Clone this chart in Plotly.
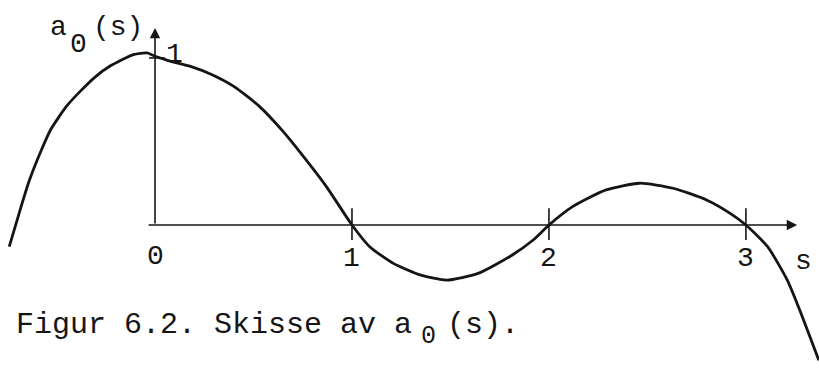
import plotly.graph_objects as go

# Sketched curve a0(s): sample points along the hand-drawn shape
s_vals = [-0.74, -0.69, -0.64, -0.58, -0.53, -0.45, -0.38, -0.30, -0.23, -0.11,
          -0.04, 0.00, 0.08, 0.18, 0.29, 0.40, 0.53, 0.65, 0.74, 0.87,
          1.00, 1.09, 1.21, 1.35, 1.48, 1.64, 1.80, 1.92, 2.00, 2.12,
          2.29, 2.46, 2.63, 2.80, 2.92, 3.00, 3.11, 3.21, 3.27, 3.37]
a0_vals = [-0.13, 0.07, 0.26, 0.44, 0.57, 0.71, 0.80, 0.89, 0.95, 1.02,
           1.03, 1.01, 0.98, 0.95, 0.90, 0.83, 0.71, 0.56, 0.43, 0.23,
           0.00, -0.13, -0.23, -0.30, -0.33, -0.29, -0.19, -0.09, 0.00, 0.11,
           0.21, 0.25, 0.22, 0.15, 0.07, 0.00, -0.13, -0.33, -0.50, -0.81]

x_ticks = [1, 2, 3]
x_tick_labels = ["1", "2", "3"]

INK = "#151515"
FONT = "Liberation Mono, DejaVu Sans Mono, monospace"
FS = 28

fig = go.Figure()
fig.add_trace(go.Scatter(
    x=s_vals, y=a0_vals, mode="lines",
    line=dict(color=INK, width=2.8, shape="spline", smoothing=0.6),
    hoverinfo="skip", showlegend=False,
))

shapes = []
# tick marks on the s axis
for t in x_ticks:
    shapes.append(dict(type="line", xref="x", yref="y", x0=t, x1=t, y0=-0.09, y1=0.10,
                       line=dict(color=INK, width=1.6)))
# small mark at a0 = 1 on the vertical axis
shapes.append(dict(type="line", xref="x", yref="y", x0=-0.03, x1=0.05, y0=1.0, y1=1.0,
                   line=dict(color=INK, width=1.6)))

annotations = []
# axes drawn as arrows
annotations.append(dict(x=3.26, y=0, ax=-0.04, ay=0, xref="x", yref="y", axref="x", ayref="y",
                        text="", showarrow=True, arrowhead=2, arrowsize=1.3, arrowwidth=1.6,
                        arrowcolor=INK))
annotations.append(dict(x=0, y=1.18, ax=0, ay=0, xref="x", yref="y", axref="x", ayref="y",
                        text="", showarrow=True, arrowhead=2, arrowsize=1.3, arrowwidth=1.6,
                        arrowcolor=INK))


def label(x, y, txt, xanchor="center", size=FS, xref="x", xshift=0):
    annotations.append(dict(x=x, y=y, xref=xref, yref="y", text=txt, showarrow=False,
                            xanchor=xanchor, yanchor="middle", xshift=xshift,
                            font=dict(family=FONT, size=size, color=INK)))


label(0, -0.19, "0")
for t, lab in zip(x_ticks, x_tick_labels):
    label(t, -0.20, lab)
label(3.29, -0.22, "s")
label(0.10, 1.02, "1")

# vertical axis title a0(s)
label(-0.49, 1.18, "a")
label(-0.39, 1.08, "0")
label(-0.19, 1.18, "(s)")

# caption below the sketch, written in pieces so the subscript sits low
cap_y = -0.60
label(0.506, cap_y, "Figur 6.2. Skisse av a", xanchor="right", xref="paper", size=30)
label(1.39, cap_y - 0.07, "0", size=FS - 3)
label(1.47, cap_y, "(s).", xanchor="left", size=30)

fig.update_layout(annotations=annotations, shapes=shapes)

fig.update_xaxes(range=[-0.787, 3.371], visible=False, fixedrange=True)
fig.update_yaxes(range=[-0.958, 1.347], visible=False, fixedrange=True)
fig.update_layout(
    width=819, height=385,
    margin=dict(l=0, r=0, t=0, b=0),
    paper_bgcolor="white", plot_bgcolor="white",
    showlegend=False,
)

fig.write_html("out.html", config={"displayModeBar": False})
